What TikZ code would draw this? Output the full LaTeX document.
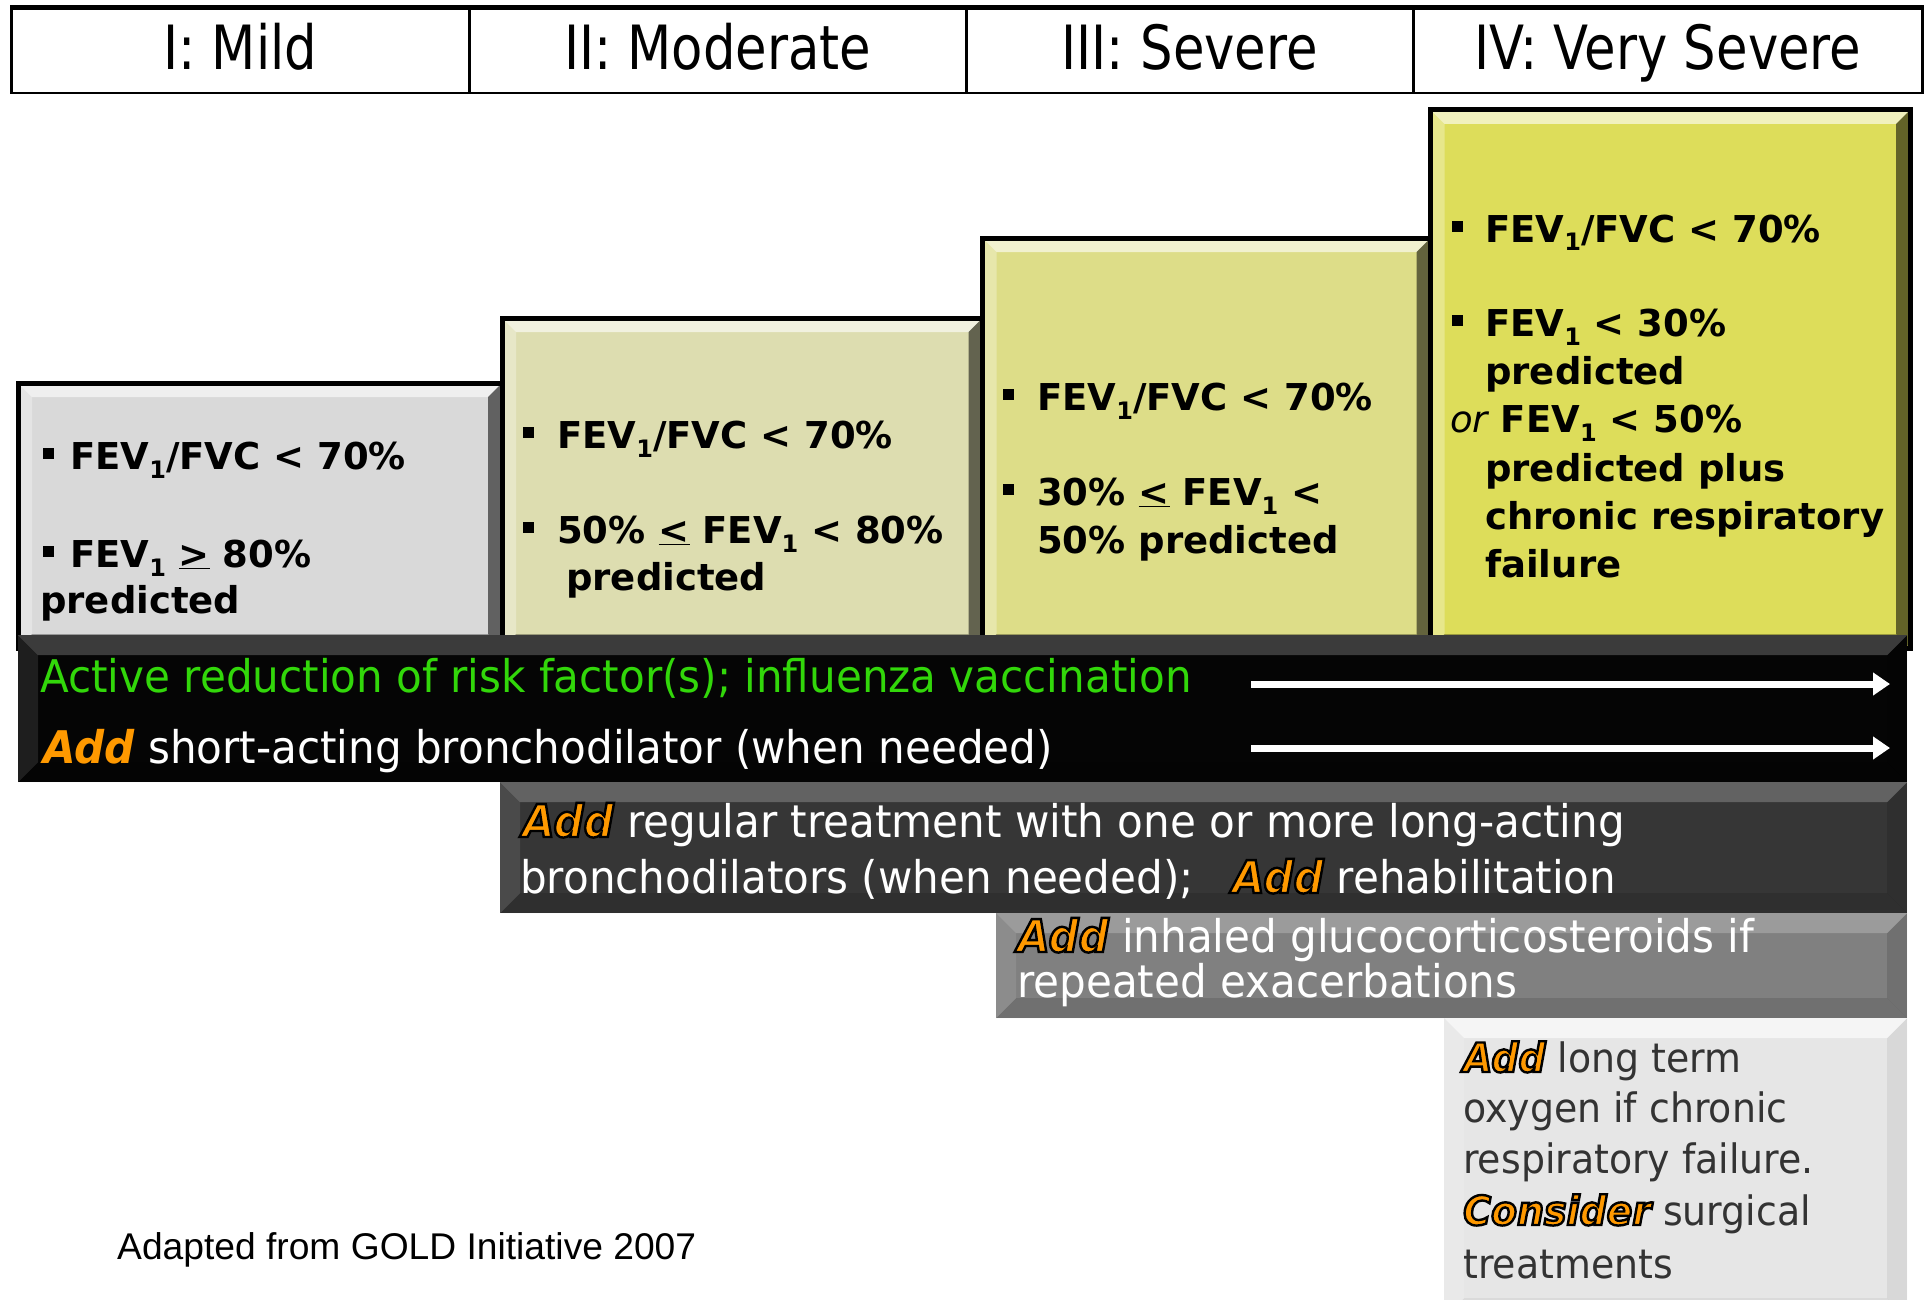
\documentclass[tikz,border=0pt]{standalone}
\usepackage{fontspec}
\setmainfont{DejaVu Sans}
\newfontfamily\hdrf[FakeStretch=0.84]{DejaVu Sans}
\newfontfamily\tah[FakeStretch=0.935]{DejaVu Sans}
\newfontfamily\arialf{Liberation Sans}
\usetikzlibrary{arrows.meta}
\definecolor{boxA}{RGB}{217,217,217}
\definecolor{boxB}{RGB}{221,221,176}
\definecolor{boxC}{RGB}{221,221,136}
\definecolor{boxD}{RGB}{221,221,90}
\definecolor{rowA}{RGB}{5,5,5}
\definecolor{rowB}{RGB}{54,54,54}
\definecolor{rowC}{RGB}{128,128,128}
\definecolor{rowD}{RGB}{230,230,230}
\definecolor{actgreen}{RGB}{50,215,10}
\definecolor{addorange}{RGB}{255,153,0}
\definecolor{darktext}{RGB}{51,51,51}
\newcommand\subone{\raisebox{-9pt}{\fontsize{24}{24}\selectfont 1}}
\newcommand\bsq{\rule[10pt]{11pt}{11pt}}
\newcommand\addplain[1]{{\color{addorange}\bfseries\itshape #1}}
\newcommand\addo[1]{{\color{addorange}\bfseries\itshape\special{pdf:literal direct 0 0 0 RG 2.4 w 2 Tr}#1\special{pdf:literal direct 0 Tr}}}
\tikzset{
  bevel/.style n args={5}{path picture={
    \fill[white,opacity=#2] (path picture bounding box.north west) -- (path picture bounding box.north east) -- ([xshift=-#1,yshift=-#1]path picture bounding box.north east) -- ([xshift=#1,yshift=-#1]path picture bounding box.north west) -- cycle;
    \fill[white,opacity=#3] (path picture bounding box.north west) -- ([xshift=#1,yshift=-#1]path picture bounding box.north west) -- ([xshift=#1,yshift=#1]path picture bounding box.south west) -- (path picture bounding box.south west) -- cycle;
    \fill[black,opacity=#4] (path picture bounding box.north east) -- ([xshift=-#1,yshift=-#1]path picture bounding box.north east) -- ([xshift=-#1,yshift=#1]path picture bounding box.south east) -- (path picture bounding box.south east) -- cycle;
    \fill[black,opacity=#5] (path picture bounding box.south west) -- ([xshift=#1,yshift=#1]path picture bounding box.south west) -- ([xshift=-#1,yshift=#1]path picture bounding box.south east) -- (path picture bounding box.south east) -- cycle;
  }},
  hcell/.style={draw=black, line width=2.5pt, anchor=north west, inner sep=0pt, minimum height=84pt,
    text height=48pt, text depth=12pt, font=\hdrf\fontsize{61}{61}\selectfont},
  stepbox/.style={draw=black, line width=5pt, anchor=north west, inner sep=0pt, bevel={14pt}{0.6}{0.3}{0.55}{0.3}},
  rowbox/.style={anchor=north west, inner sep=0pt, bevel={20pt}{0.22}{0.1}{0.12}{0.12}},
  txt/.style={inner sep=0pt, anchor=base west},
  crit/.style={txt, font=\fontsize{37}{40}\selectfont\bfseries},
  band/.style={txt, font=\tah\fontsize{45}{50}\selectfont},
  last/.style={txt, text=darktext, font=\tah\fontsize{40.5}{46}\selectfont},
  arr/.style={white, line width=7pt, -{Triangle[length=17pt,width=22pt]}}
}
\begin{document}
\begin{tikzpicture}[x=1pt,y=-1pt]
\useasboundingbox[fill=white] (0,0) rectangle (1927,1300);
% header
\node[hcell, minimum width=458pt] (h1) at (10,8) {I: Mild};
\node[hcell, minimum width=497pt] (h2) at (468,8) {II: Moderate};
\node[hcell, minimum width=447pt] (h3) at (965,8) {III: Severe};
\node[hcell, minimum width=509pt] (h4) at (1412,8) {IV: Very Severe};
\draw[line width=5pt] (h1.north west) -- (h4.north east);
% step boxes
\node[stepbox, fill=boxA, minimum width=484pt, minimum height=265pt] (b1) at (15.5,380.5) {};
\node[stepbox, fill=boxB, minimum width=480.5pt, minimum height=330pt] (b2) at (499.5,315.5) {};
\node[stepbox, fill=boxC, minimum width=448pt, minimum height=410pt] (b3) at (980,235.5) {};
\node[stepbox, fill=boxD, minimum width=479.5pt, minimum height=538pt] (b4) at (1428,107.5) {};
% criteria texts
\node[crit] (t1a) at (43,469) {\makebox[27pt][l]{\bsq}FEV\subone/FVC < 70\%};
\node[crit] (t1b) at (43,567) {\makebox[27pt][l]{\bsq}FEV\subone{} \underline{>} 80\%};
\node[crit] (t1c) at (40,613) {predicted};
\node[crit] (t2a) at (523,448) {\makebox[34pt][l]{\bsq}FEV\subone/FVC < 70\%};
\node[crit] (t2b) at (523,543) {\makebox[34pt][l]{\bsq}50\% \underline{<} FEV\subone{} < 80\%};
\node[crit] (t2c) at (566,590) {predicted};
\node[crit] (t3a) at (1003,410) {\makebox[34pt][l]{\bsq}FEV\subone/FVC < 70\%};
\node[crit] (t3b) at (1003,505) {\makebox[34pt][l]{\bsq}30\% \underline{<} FEV\subone{} <};
\node[crit] (t3c) at (1037,553) {50\% predicted};
\node[crit] (t4a) at (1452,242) {\makebox[33pt][l]{\bsq}FEV\subone/FVC < 70\%};
\node[crit] (t4b) at (1452,336) {\makebox[33pt][l]{\bsq}FEV\subone{} < 30\%};
\node[crit] (t4c) at (1485,384) {predicted};
\node[crit] (t4d) at (1450,432) {{\mdseries\itshape or} FEV\subone{} < 50\%};
\node[crit] (t4e) at (1485,481) {predicted plus};
\node[crit] (t4f) at (1485,529) {chronic respiratory};
\node[crit] (t4g) at (1485,577) {failure};
% treatment rows
\node[rowbox, fill=rowA, minimum width=1889pt, minimum height=147pt] (r1) at (18,635) {};
\node[rowbox, fill=rowB, minimum width=1407pt, minimum height=131pt] (r2) at (500,782) {};
\node[rowbox, fill=rowC, minimum width=911pt, minimum height=105pt] (r3) at (996,913) {};
\node[rowbox, fill=rowD, minimum width=463pt, minimum height=300pt, bevel={20pt}{0.6}{0.15}{0.06}{0.05}] (r4) at (1444,1018) {};
% row 1
\node[band, text=actgreen] (s1a) at (40,692) {Active reduction of risk factor(s); influenza vaccination};
\node[band, text=white] (s1b) at (43,763) {\addplain{Add} short-acting bronchodilator (when needed)};
\coordinate (a1s) at (1251,684);
\coordinate (a1e) at (1890,684);
\coordinate (a2s) at (1251,748);
\coordinate (a2e) at (1890,748);
\draw[arr] (a1s) -- (a1e);
\draw[arr] (a2s) -- (a2e);
% row 2
\node[band, text=white] (s2a) at (522,837) {\addo{Add} regular treatment with one or more long-acting};
\node[band, text=white] (s2b) at (520,893) {bronchodilators (when needed);\hspace{25pt} \addo{Add} rehabilitation};
% row 3
\node[band, text=white] (s3a) at (1017,952) {\addo{Add} inhaled glucocorticosteroids if};
\node[band, text=white] (s3b) at (1017,997) {repeated exacerbations};
% row 4
\node[last] (s4a) at (1463,1072) {\addo{Add} long term};
\node[last] (s4b) at (1463,1122) {oxygen if chronic};
\node[last] (s4c) at (1463,1173) {respiratory failure.};
\node[last] (s4d) at (1463,1225) {\addo{Consider} surgical};
\node[last] (s4e) at (1463,1278) {treatments};
% source
\node[txt, font=\arialf\fontsize{37.2}{40}\selectfont] (src) at (117,1259) {Adapted from GOLD Initiative 2007};
\end{tikzpicture}
\end{document}
